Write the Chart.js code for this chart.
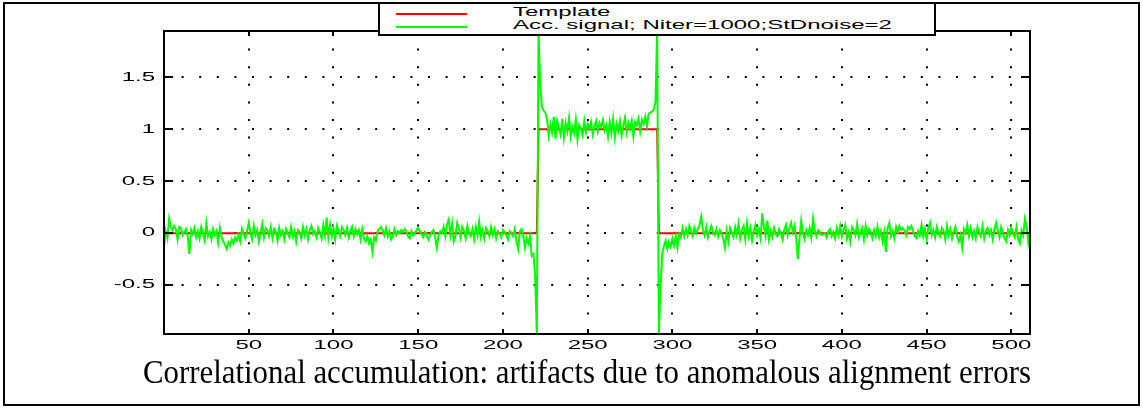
<!DOCTYPE html>
<html>
<head>
<meta charset="utf-8">
<script src="https://cdn.jsdelivr.net/npm/chart.js@4"></script>
<style>
  html, body { margin: 0; padding: 0; background: #fff; }
  #wrap { position: relative; width: 1143px; height: 408px; overflow: hidden; }
  #chart { position: absolute; left: 0; top: 0; }
  #frame { position: absolute; left: 3px; top: 2px; width: 1133px; height: 400px; border: 2px solid #000; }
  #legend { position: absolute; left: 378px; top: 2px; width: 554px; height: 30px; border: 2px solid #000; background: #fff; }
  .swatch { position: absolute; left: 16px; width: 71px; height: 2px; }
  .ltext { position: absolute; left: 133px; font: 12px "Liberation Sans", Arial, sans-serif; line-height: 12px;
           white-space: nowrap; transform: scaleX(2); transform-origin: 0 0; color: #000; }
  #caption { position: absolute; left: 143px; top: 356px; font: 33px "Liberation Serif", "Times New Roman", serif;
             line-height: 33px; white-space: nowrap; transform-origin: 0 0; color: #000; }
</style>
</head>
<body>
<div id="wrap">
  <canvas id="chart" width="1143" height="408"></canvas>
  <div id="frame"></div>
  <div id="legend"></div>
  <span id="caption"></span>
</div>
<script>
// sample index 0..511
const accSignal = [
  // 0-219
  -0.13, 0.02, -0.05, 0.14, 0.06, 0.03, 0.07, 0.04, -0.06, 0.06, 0.05, -0.02, 0.01, 0.04, -0.03, -0.20, 0.03, -0.01, 0.05, -0.04,
  0.02, -0.05, 0.06, 0.00, -0.07, 0.10, -0.03, 0.01, -0.06, 0.04, -0.02, 0.02, -0.09, 0.05, -0.04, -0.08, -0.11, -0.15, -0.09, -0.12,
  -0.06, -0.10, -0.04, -0.07, -0.02, -0.08, 0.04, -0.01, -0.05, 0.02, 0.10, 0.00, -0.06, 0.07, -0.02, 0.03, -0.08, 0.01, 0.09, -0.04,
  0.05, 0.03, -0.03, 0.06, -0.05, 0.04, 0.01, -0.07, 0.05, -0.02, 0.02, -0.06, 0.04, 0.00, -0.04, 0.06, -0.03, 0.02, -0.08, 0.03,
  0.01, -0.05, 0.06, -0.02, 0.04, -0.06, 0.03, 0.07, -0.01, 0.02, -0.04, 0.05, 0.01, -0.05, 0.08, -0.02, 0.15, -0.04, 0.08, -0.03,
  0.05, -0.06, 0.07, 0.02, -0.03, 0.06, 0.03, -0.02, 0.05, -0.04, 0.02, 0.06, -0.03, 0.04, -0.01, 0.03, -0.06, 0.04, -0.05, -0.08,
  -0.03, -0.10, -0.06, -0.18, -0.04, -0.07, 0.02, 0.04, 0.06, 0.03, -0.02, 0.05, -0.03, 0.02, -0.06, -0.03, 0.04, -0.02, 0.02, 0.00,
  0.03, 0.01, 0.04, 0.02, -0.03, -0.05, 0.02, -0.02, 0.00, 0.03, 0.05, 0.02, -0.01, -0.04, 0.01, -0.02, -0.06, -0.02, 0.01, 0.03,
  -0.04, -0.14, -0.02, 0.02, 0.00, 0.06, -0.03, 0.08, 0.13, -0.02, 0.09, -0.08, -0.03, 0.10, 0.05, -0.04, 0.06, 0.02, -0.05, 0.07,
  0.00, -0.03, 0.04, -0.06, 0.06, -0.02, 0.11, -0.04, 0.03, -0.05, 0.05, 0.02, -0.03, 0.06, -0.02, 0.04, -0.05, 0.02, 0.00, -0.04,
  0.03, 0.01, -0.02, -0.06, 0.02, 0.00, -0.03, 0.04, -0.08, -0.15, 0.02, 0.04, -0.02, -0.14, -0.05, -0.10, -0.03, -0.22, -0.20, -0.42,
  // 220-221
  -0.97, 1.945,
  // 222-239
  1.42, 1.22, 1.18, 1.16, 1.10, 0.94, 1.05, 0.97, 1.12, 0.91, 1.08, 1.02, 0.95, 1.10, 0.92, 1.06, 0.98, 1.11,
  // 240-279
  0.93, 1.02, 0.96, 1.09, 0.90, 1.04, 1.00, 0.94, 1.08, 0.97, 1.05, 1.00, 1.07, 0.95, 1.03, 1.08, 0.98, 1.06, 1.02, 1.09,
  0.99, 1.04, 0.93, 1.07, 0.96, 1.10, 0.92, 1.05, 0.98, 1.08, 0.94, 1.03, 1.11, 0.97, 1.06, 1.00, 1.08, 0.93, 1.07, 1.04,
  // 280-290
  1.10, 0.98, 1.09, 1.05, 1.12, 1.03, 1.15, 1.16, 1.17, 1.19, 1.26,
  // 291-292
  1.945, -0.97,
  // 293-299
  -0.52, -0.20, -0.12, -0.07, -0.15, -0.08, -0.13,
  // 300-499
  -0.05, -0.12, -0.03, -0.14, -0.01, -0.04, 0.05, -0.03, 0.04, -0.02, 0.07, 0.02, -0.03, 0.05, 0.00, 0.04, 0.08, 0.16, 0.03, -0.02,
  0.06, -0.04, 0.02, 0.07, 0.01, -0.02, 0.04, -0.03, 0.03, 0.00, -0.05, -0.14, 0.02, -0.08, 0.05, 0.01, -0.04, 0.06, -0.02, 0.09,
  -0.05, 0.03, 0.07, -0.06, 0.10, -0.03, 0.05, -0.07, 0.02, 0.08, -0.02, 0.04, -0.05, 0.19, 0.06, -0.03, 0.12, -0.06, 0.02, -0.04,
  0.05, -0.01, -0.03, 0.04, 0.00, -0.06, 0.03, 0.08, -0.02, 0.05, 0.10, 0.01, 0.07, -0.04, -0.25, -0.05, 0.12, 0.00, -0.06, 0.03,
  -0.02, 0.05, -0.04, 0.14, 0.02, -0.03, 0.03, 0.01, -0.02, -0.01, 0.00, -0.04, 0.02, 0.04, -0.03, 0.01, -0.05, 0.05, -0.02, 0.07,
  -0.03, 0.03, 0.08, -0.05, 0.01, -0.08, 0.06, 0.03, -0.02, 0.09, -0.04, 0.01, 0.05, -0.06, 0.07, -0.02, 0.04, 0.00, -0.05, 0.03,
  -0.03, 0.06, -0.04, 0.02, -0.08, 0.01, -0.18, 0.05, 0.10, -0.03, 0.02, -0.05, 0.06, 0.01, 0.07, 0.03, 0.05, 0.02, -0.02, 0.06,
  0.04, 0.07, 0.02, -0.03, -0.05, 0.02, -0.02, 0.08, -0.03, 0.04, -0.06, 0.05, 0.10, -0.02, 0.03, -0.04, 0.06, 0.00, -0.03, 0.05,
  0.02, -0.06, 0.07, -0.02, 0.04, -0.05, 0.01, 0.06, -0.03, -0.08, -0.02, -0.14, 0.04, 0.00, 0.08, -0.03, 0.05, -0.04, 0.02, -0.05,
  0.06, 0.01, -0.03, 0.07, -0.05, 0.02, 0.05, -0.02, 0.03, -0.06, 0.04, 0.10, 0.02, -0.04, 0.06, 0.01, -0.05, -0.08, 0.03, -0.02,
  // 500-511
  0.05, 0.00, -0.04, 0.06, -0.06, -0.10, 0.03, -0.02, 0.14, 0.07, -0.09, 0.01
];

// template: step corners
const templateX = [0, 220, 221, 291, 292, 511];
const templateY = [0, 0, 1, 1, 0, 0];

const xTicks = [50, 100, 150, 200, 250, 300, 350, 400, 450, 500];
const yTicks = [-0.5, 0, 0.5, 1, 1.5];

const seriesNames = ['Template', 'Acc. signal; Niter=1000;StDnoise=2'];
const seriesColors = ['#ff0000', '#00ff00'];
const captionText = 'Correlational accumulation: artifacts due to anomalous alignment errors';

// legend (html box over the top of the axes, like the matlab one)
const legend = document.getElementById('legend');
seriesNames.forEach((name, i) => {
  const sw = document.createElement('div');
  sw.className = 'swatch';
  sw.style.top = (i === 0 ? 9 : 22) + 'px';
  sw.style.background = seriesColors[i];
  legend.appendChild(sw);
  const t = document.createElement('div');
  t.className = 'ltext';
  t.style.top = (i === 0 ? 2 : 15) + 'px';
  t.textContent = name;
  legend.appendChild(t);
});

const cap = document.getElementById('caption');
cap.textContent = captionText;
cap.style.transform = 'scaleX(' + (888 / cap.getBoundingClientRect().width) + ')';

const canvas = document.getElementById('chart');
const ctx = canvas.getContext('2d');

// tick labels in the original are stretched sideways
const plainFillText = ctx.fillText;
ctx.fillText = function (text, x, y, maxWidth) {
  this.save();
  this.translate(x, y);
  this.scale(2, 1);
  plainFillText.call(this, text, 0, 0);
  this.restore();
};

// boxed axes with inward ticks
const axesBox = {
  id: 'axesBox',
  afterDatasetsDraw(chart) {
    const { ctx, chartArea: a, scales } = chart;
    ctx.save();
    ctx.strokeStyle = '#000';
    ctx.lineWidth = 2;
    ctx.beginPath();
    scales.y.ticks.forEach(t => {
      const py = Math.round(scales.y.getPixelForValue(t.value));
      ctx.moveTo(a.left, py); ctx.lineTo(a.left + 9, py);
      ctx.moveTo(a.right, py); ctx.lineTo(a.right - 9, py);
    });
    scales.x.ticks.forEach(t => {
      const px = Math.round(scales.x.getPixelForValue(t.value));
      ctx.moveTo(px, a.bottom); ctx.lineTo(px, a.bottom - 5);
      ctx.moveTo(px, a.top); ctx.lineTo(px, a.top + 5);
    });
    ctx.stroke();
    ctx.strokeRect(a.left, a.top, a.right - a.left, a.bottom - a.top);
    ctx.restore();
  }
};

const tickFont = { family: '"Liberation Sans", Arial, sans-serif', size: 12 };

new Chart(canvas, {
  type: 'line',
  data: {
    datasets: [
      {
        label: seriesNames[1],
        data: accSignal.map((v, i) => ({ x: i, y: v })),
        borderColor: seriesColors[1],
        borderWidth: 2,
        order: 0
      },
      {
        label: seriesNames[0],
        data: templateX.map((x, i) => ({ x: x, y: templateY[i] })),
        borderColor: seriesColors[0],
        borderWidth: 2,
        order: 1
      }
    ]
  },
  options: {
    responsive: false,
    animation: false,
    devicePixelRatio: 1,
    layout: { padding: { left: 84, right: 113, top: 31, bottom: 34 } },
    elements: { point: { radius: 0 }, line: { tension: 0 } },
    plugins: { legend: { display: false }, tooltip: { enabled: false } },
    scales: {
      x: {
        type: 'linear',
        min: 0,
        max: 511,
        afterBuildTicks: s => { s.ticks = xTicks.map(v => ({ value: v })); },
        afterFit: s => { s.height = 40; },
        ticks: { color: '#000', font: tickFont, padding: 4, maxRotation: 0, autoSkip: false },
        grid: { color: '#000', lineWidth: 2, drawTicks: false },
        border: { display: false, dash: [2, 15.6] }
      },
      y: {
        type: 'linear',
        min: -0.97,
        max: 1.945,
        afterBuildTicks: s => { s.ticks = yTicks.map(v => ({ value: v })); },
        afterFit: s => { s.width = 80; },
        ticks: { color: '#000', font: tickFont, padding: 9, callback: v => String(v) },
        grid: { color: '#000', lineWidth: 2, drawTicks: false },
        border: { display: false, dash: [2, 15.6] }
      }
    }
  },
  plugins: [axesBox]
});
</script>
</body>
</html>
